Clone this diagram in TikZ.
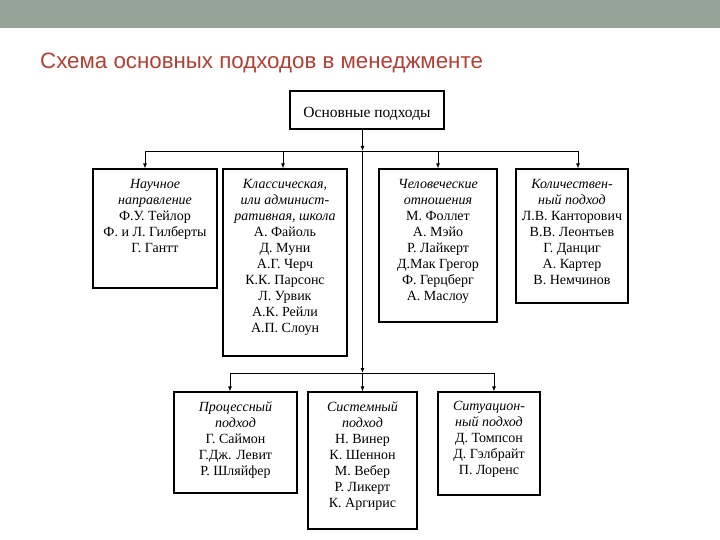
\documentclass[tikz,border=0pt]{standalone}
\usepackage{fontspec}
\setmainfont{Liberation Serif}
\setsansfont{Liberation Sans}
\usepackage{xcolor}
\usetikzlibrary{arrows.meta,positioning,calc}
\definecolor{bandgray}{RGB}{150,163,152}
\definecolor{titlered}{RGB}{176,64,52}
\tikzset{
	box/.style={draw, line width=1.2pt, inner sep=0pt},
	arrow/.style={-{Latex[length=5pt,width=4pt]}, line width=0.8pt},
	link/.style={line width=0.8pt}
}

\begin{document}
\begin{tikzpicture}[x=1pt, y=-1pt,
			names/.style={align=center, inner sep=0pt, anchor=north,
				font=\fontsize{14}{16}\selectfont, execute at begin node=\strut},
			]
			\useasboundingbox (0,0) rectangle (720,540);
			
			%% -- Header band and title
			\fill[bandgray] (0,0) rectangle (720,28);
			\node[anchor=base west, inner sep=0pt, text=titlered,
			font=\sffamily\fontsize{22.3}{26}\selectfont] (title) at (40,69)
			{Схема основных подходов в менеджменте};
			
			%% -- Root box
			\node[box, minimum width=154pt, minimum height=38pt,
			text height=16pt, text depth=0pt,
			font=\fontsize{15.5}{18}\selectfont] (top) at (367,110)
			{Основные подходы};
			
			%% -- Upper row of boxes
			\node[box, minimum width=124pt, minimum height=119pt] (b1) at (155,228.5) {};
			\node[box, minimum width=124pt, minimum height=187pt] (b2) at (285,262.5) {};
			\node[box, minimum width=118pt, minimum height=153pt] (b3) at (438,245.5) {};
			\node[box, minimum width=112pt, minimum height=134pt] (b4) at (572,236) {};
			
			%% -- Lower row of boxes
			\node[box, minimum width=123pt, minimum height=101pt] (b5) at (235.5,442.5) {};
			\node[box, minimum width=109pt, minimum height=137pt] (b6) at (362.5,460.5) {};
			\node[box, minimum width=102pt, minimum height=103pt] (b7) at (489,443.5) {};
			
			%% -- Texts inside the boxes
			\node[names] (t1) at ($(b1.north)+(0,11)$)
			{\textit{Научное}\\ \textit{направление}\\ Ф.У. Тейлор\\ Ф. и Л. Гилберты\\ Г. Гантт};
			\node[names] (t2) at ($(b2.north)+(0,10.5)$)
			{\textit{Классическая,}\\ \textit{или админист-}\\ \textit{ративная, школа}\\ А. Файоль\\ Д. Муни\\
				А.Г. Черч\\ К.К. Парсонс\\ Л. Урвик\\ А.К. Рейли\\ А.П. Слоун};
			\node[names] (t3) at ($(b3.north)+(0,11)$)
			{\textit{Человеческие}\\ \textit{отношения}\\ М. Фоллет\\ А. Мэйо\\ Р. Лайкерт\\
				Д.Мак Грегор\\ Ф. Герцберг\\ А. Маслоу};
			\node[names] (t4) at ($(b4.north)+(0,11)$)
			{\textit{Количествен-}\\ \textit{ный подход}\\ Л.В. Канторович\\ В.В. Леонтьев\\
				Г. Данциг\\ А. Картер\\ В. Немчинов};
			\node[names] (t5) at ($(b5.north)+(0,10)$)
			{\textit{Процессный}\\ \textit{подход}\\ Г. Саймон\\ Г.Дж. Левит\\ Р. Шляйфер};
			\node[names] (t6) at ($(b6.north)+(0,10)$)
			{\textit{Системный}\\ \textit{подход}\\ Н. Винер\\ К. Шеннон\\ М. Вебер\\ Р. Ликерт\\ К. Аргирис};
			\node[names] (t7) at ($(b7.north)+(0,10)$)
			{\textit{Ситуацион-}\\ \textit{ный подход}\\ Д. Томпсон\\ Д. Гэлбрайт\\ П. Лоренс};
			
			%% -- Branching points on the trunk
			\coordinate (hub) at (362.5,151);
			\coordinate (hubl) at (362.5,373);
			
			%% -- Trunk
			\draw[arrow] (top.south -| hub) -- (hub);
			\draw[arrow] (hub) -- (hubl);
			
			%% -- Upper branches
			\draw[arrow] (hub) -| ([xshift=-10pt]b1.north);
			\draw[arrow] (hub) -| ([xshift=-2pt]b2.north);
			\draw[arrow] (hub) -| (b3.north);
			\draw[arrow] (hub) -| ([xshift=6pt]b4.north);
			
			%% -- Lower branches
			\draw[arrow] (hubl) -| ([xshift=-5.5pt]b5.north);
			\draw[arrow] (hubl) -- (b6.north);
			\draw[arrow] (hubl) -| ([xshift=5pt]b7.north);
			
		\end{tikzpicture}
\end{document}
